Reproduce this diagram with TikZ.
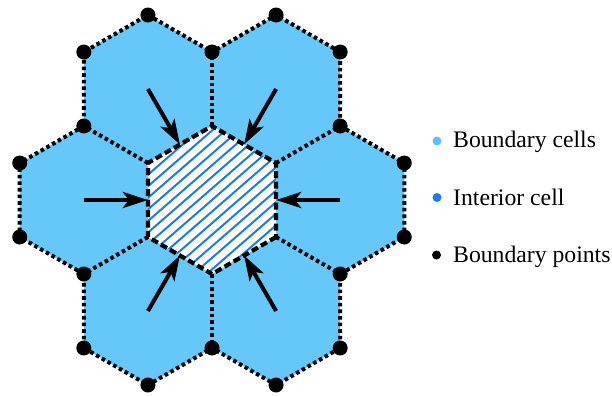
\documentclass[tikz,border=0pt]{standalone}
\usepackage{fontspec}
\setmainfont{Liberation Serif}
\usetikzlibrary{arrows.meta,calc}

\definecolor{cellblue}{RGB}{102,199,249}
\definecolor{hatchblue}{RGB}{30,125,220}
\definecolor{keylight}{RGB}{91,192,245}
\definecolor{keydark}{RGB}{24,128,236}

\tikzset{
  outeredge/.style={line width=4pt, dash pattern=on 3.6pt off 3pt},
  inneredge/.style={line width=4.2pt, dash pattern=on 7pt off 3.5pt},
  bpoint/.style={circle, fill=black, inner sep=0pt, minimum size=15pt},
  flowarrow/.style={line width=4pt, -{Stealth[length=25pt,width=16pt,inset=6pt]}},
  hatchline/.style={hatchblue, line width=2pt},
  keydot/.style={circle, inner sep=0pt, minimum size=9pt},
  keytext/.style={anchor=base west, inner sep=0pt, font=\fontsize{23.7}{28}\selectfont}
}

\begin{document}
\begin{tikzpicture}[x=1pt,y=-1pt]
\useasboundingbox (0,0) rectangle (612,396);

% cell radius and centre-to-centre distance
\def\R{74}
\def\D{128.17}
\coordinate (ctr) at (212,200);
\foreach \k in {0,...,5}{
  \coordinate (cell\k) at ($(ctr)+(60*\k:\D)$);
  \coordinate (mid\k)  at ($(ctr)+(60*\k:64.09)$);
  \coordinate (in\k)   at ($(ctr)+(60*\k+30:\R)$);
  \coordinate (sp\k)   at ($(ctr)+(60*\k+30:2*\R)$);
  \coordinate (ea\k)   at ($(cell\k)+(60*\k-30:\R)$);
  \coordinate (eb\k)   at ($(cell\k)+(60*\k+30:\R)$);
}

% boundary cells
\fill[cellblue] (sp5) \foreach \k in {0,...,5}{ -- (ea\k) -- (eb\k) -- (sp\k) } -- cycle;

% interior cell with hatching
\fill[white] (in0) -- (in1) -- (in2) -- (in3) -- (in4) -- (in5) -- cycle;
\begin{scope}
  \clip (in0) -- (in1) -- (in2) -- (in3) -- (in4) -- (in5) -- cycle;
  \foreach \t in {-12,...,12}{
    \draw[hatchline] ($(ctr)+(13.3*\t-100,87)$) -- ($(ctr)+(13.3*\t+100,-87)$);
  }
\end{scope}

% cell edges
\draw[outeredge] (sp5) \foreach \k in {0,...,5}{ -- (ea\k) -- (eb\k) -- (sp\k) };
\foreach \k in {0,...,5}{
  \draw[outeredge] (in\k) -- (sp\k);
}
\draw[inneredge] (in0) -- (in1) -- (in2) -- (in3) -- (in4) -- (in5) -- cycle;

% flow arrows towards the interior cell
\foreach \k in {0,...,5}{
  \draw[flowarrow] (cell\k) -- (mid\k);
}

% boundary points
\foreach \k in {0,...,5}{
  \node[bpoint] (pa\k) at (ea\k) {};
  \node[bpoint] (pb\k) at (eb\k) {};
  \node[bpoint] (ps\k) at (sp\k) {};
}

% legend
\node[keydot, fill=keylight] (keycells) at (437,141) {};
\node[keydot, fill=keydark]  (keyinner) at (437,197.5) {};
\node[keydot, fill=black]    (keypts)   at (436.5,255) {};
\node[keytext] (keycellstext) at (453,147) {Boundary cells};
\node[keytext] (keyinnertext) at (453,205) {Interior cell};
\node[keytext] (keyptstext)   at (453,262) {Boundary points};
\end{tikzpicture}
\end{document}
